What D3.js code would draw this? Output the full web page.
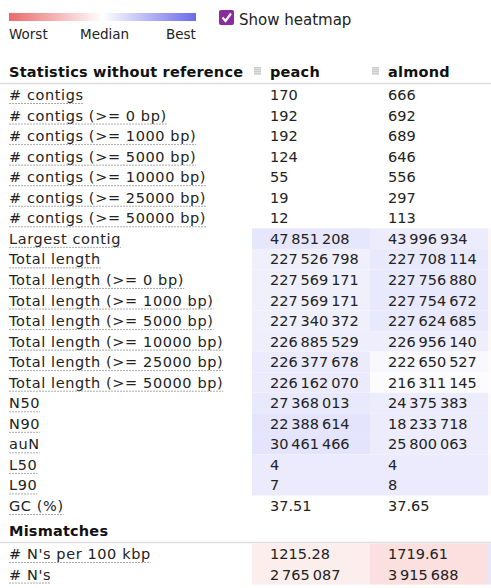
<!DOCTYPE html>
<html><head><meta charset="utf-8">
<script src="https://cdn.jsdelivr.net/npm/d3@7"></script>
<style>
body{margin:0;background:#fff;font-family:"DejaVu Sans",Verdana,sans-serif;}
</style></head><body>
<svg id="c" width="491" height="588"></svg>
<script>
const metrics1 = ["# contigs","# contigs (>= 0 bp)","# contigs (>= 1000 bp)","# contigs (>= 5000 bp)","# contigs (>= 10000 bp)","# contigs (>= 25000 bp)","# contigs (>= 50000 bp)","Largest contig","Total length","Total length (>= 0 bp)","Total length (>= 1000 bp)","Total length (>= 5000 bp)","Total length (>= 10000 bp)","Total length (>= 25000 bp)","Total length (>= 50000 bp)","N50","N90","auN","L50","L90","GC (%)"];
const peach1 = ["170","192","192","124","55","19","12","47 851 208","227 526 798","227 569 171","227 569 171","227 340 372","226 885 529","226 377 678","226 162 070","27 368 013","22 388 614","30 461 466","4","7","37.51"];
const almond1 = ["666","692","689","646","556","297","113","43 996 934","227 708 114","227 756 880","227 754 672","227 624 685","226 956 140","222 650 527","216 311 145","24 375 383","18 233 718","25 800 063","4","8","37.65"];
// heat score: positive = better (blue), negative = worse (red), null = no heatmap
const peachHeat1 = [null,null,null,null,null,null,null,0.15,0.09,0.09,0.09,0.09,0.1,0.12,0.12,0.13,0.16,0.16,0.12,0.12,null];
const almondHeat1 = [null,null,null,null,null,null,null,0.11,0.13,0.13,0.13,0.13,0.1,0.04,0.02,0.11,0.11,0.11,0.12,0.12,null];
const thirdHeat1 = [null,null,null,null,null,null,null,-0.06,-0.06,-0.06,-0.06,-0.06,-0.05,-0.02,-0.01,-0.03,-0.03,-0.03,-0.05,-0.05,null];
const metrics2 = ["# N's per 100 kbp","# N's"];
const peach2 = ["1215.28","2 765 087"];
const almond2 = ["1719.61","3 915 688"];
const peachHeat2 = [-0.1,-0.1];
const almondHeat2 = [-0.19,-0.19];
const thirdHeat2 = [0.15,0.15];
const columns = ["peach","almond"];

const svg = d3.select("#c");
const color = d3.scaleLinear().domain([-1,0,1]).range(["#e55","#fff","#55e"]);
const fmt = s => s.replace(/ /g,"\u2009");

// legend
const defs = svg.append("defs");
const g = defs.append("linearGradient").attr("id","lg");
g.append("stop").attr("offset","0%").attr("stop-color","#ea6a6a");
g.append("stop").attr("offset","50%").attr("stop-color","#fff");
g.append("stop").attr("offset","100%").attr("stop-color","#6a6aea");
svg.append("rect").attr("x",9).attr("y",13).attr("width",187).attr("height",8).attr("fill","url(#lg)");
[["Worst",9],["Median",80],["Best",166]].forEach(([t,x])=>svg.append("text").attr("x",x).attr("y",39).attr("font-size",13.5).attr("fill","#222").text(t));
svg.append("rect").attr("x",219).attr("y",10).attr("width",15).attr("height",15).attr("rx",2).attr("fill","#8a2b9e");
svg.append("path").attr("d","M222.5 17.5 L225.5 21 L231 13.5").attr("stroke","#fff").attr("stroke-width",2.2).attr("fill","none");
svg.append("text").attr("x",239).attr("y",25).attr("font-size",15).attr("fill","#222").text("Show heatmap");

const x = d3.scaleBand().domain(columns).range([252,488]);
const rowH = 20.55;
function section(title, titleY, metrics, vals, heats, third){
  svg.append("text").attr("x",9).attr("y",titleY).attr("font-size",14.5).attr("letter-spacing",0.2).attr("font-weight","bold").attr("fill","#111").text(title);
  svg.append("line").attr("x1",0).attr("x2",491).attr("y1",titleY+6.5).attr("y2",titleY+6.5).attr("stroke","#ddd").attr("stroke-width",1.5);
  const y = d3.scaleBand().domain(d3.range(metrics.length)).range([titleY+7.5, titleY+7.5+rowH*metrics.length]);
  metrics.forEach((m,i)=>{
    const yy=y(i);
    columns.forEach((c,j)=>{
      if(heats[j][i]!==null) svg.append("rect").attr("x",x(c)).attr("y",yy).attr("width",x.bandwidth()).attr("height",y.bandwidth()).attr("fill",color(heats[j][i]));
      svg.append("text").attr("x",x(c)+18).attr("y",yy+15.5).attr("font-size",14.5).attr("fill","#222").text(fmt(vals[j][i]));
    });
    if(third[i]!==null) svg.append("rect").attr("x",488).attr("y",yy).attr("width",5).attr("height",y.bandwidth()).attr("fill",color(third[i]));
    const t=svg.append("text").attr("x",9).attr("y",yy+15.5).attr("font-size",14.5).attr("letter-spacing",0.6).attr("fill","#222").text(m);
    const w=t.node().getComputedTextLength();
    svg.append("line").attr("x1",9).attr("x2",9+w).attr("y1",yy+19).attr("y2",yy+19).attr("stroke","#aaa").attr("stroke-dasharray","2,1");
  });
}
columns.forEach(c=>{
  [0,3,6,9].forEach(o=>svg.append("rect").attr("x",x(c)+2).attr("y",66+o/1.5+1).attr("width",7).attr("height",1.6).attr("fill","#ccc"));
  svg.append("text").attr("x",x(c)+18).attr("y",77).attr("font-size",14.5).attr("letter-spacing",0.2).attr("font-weight","bold").attr("fill","#111").text(c);
});
section("Statistics without reference",77,metrics1,[peach1,almond1],[peachHeat1,almondHeat1],thirdHeat1);
section("Mismatches",536,metrics2,[peach2,almond2],[peachHeat2,almondHeat2],thirdHeat2);
</script></body></html>
